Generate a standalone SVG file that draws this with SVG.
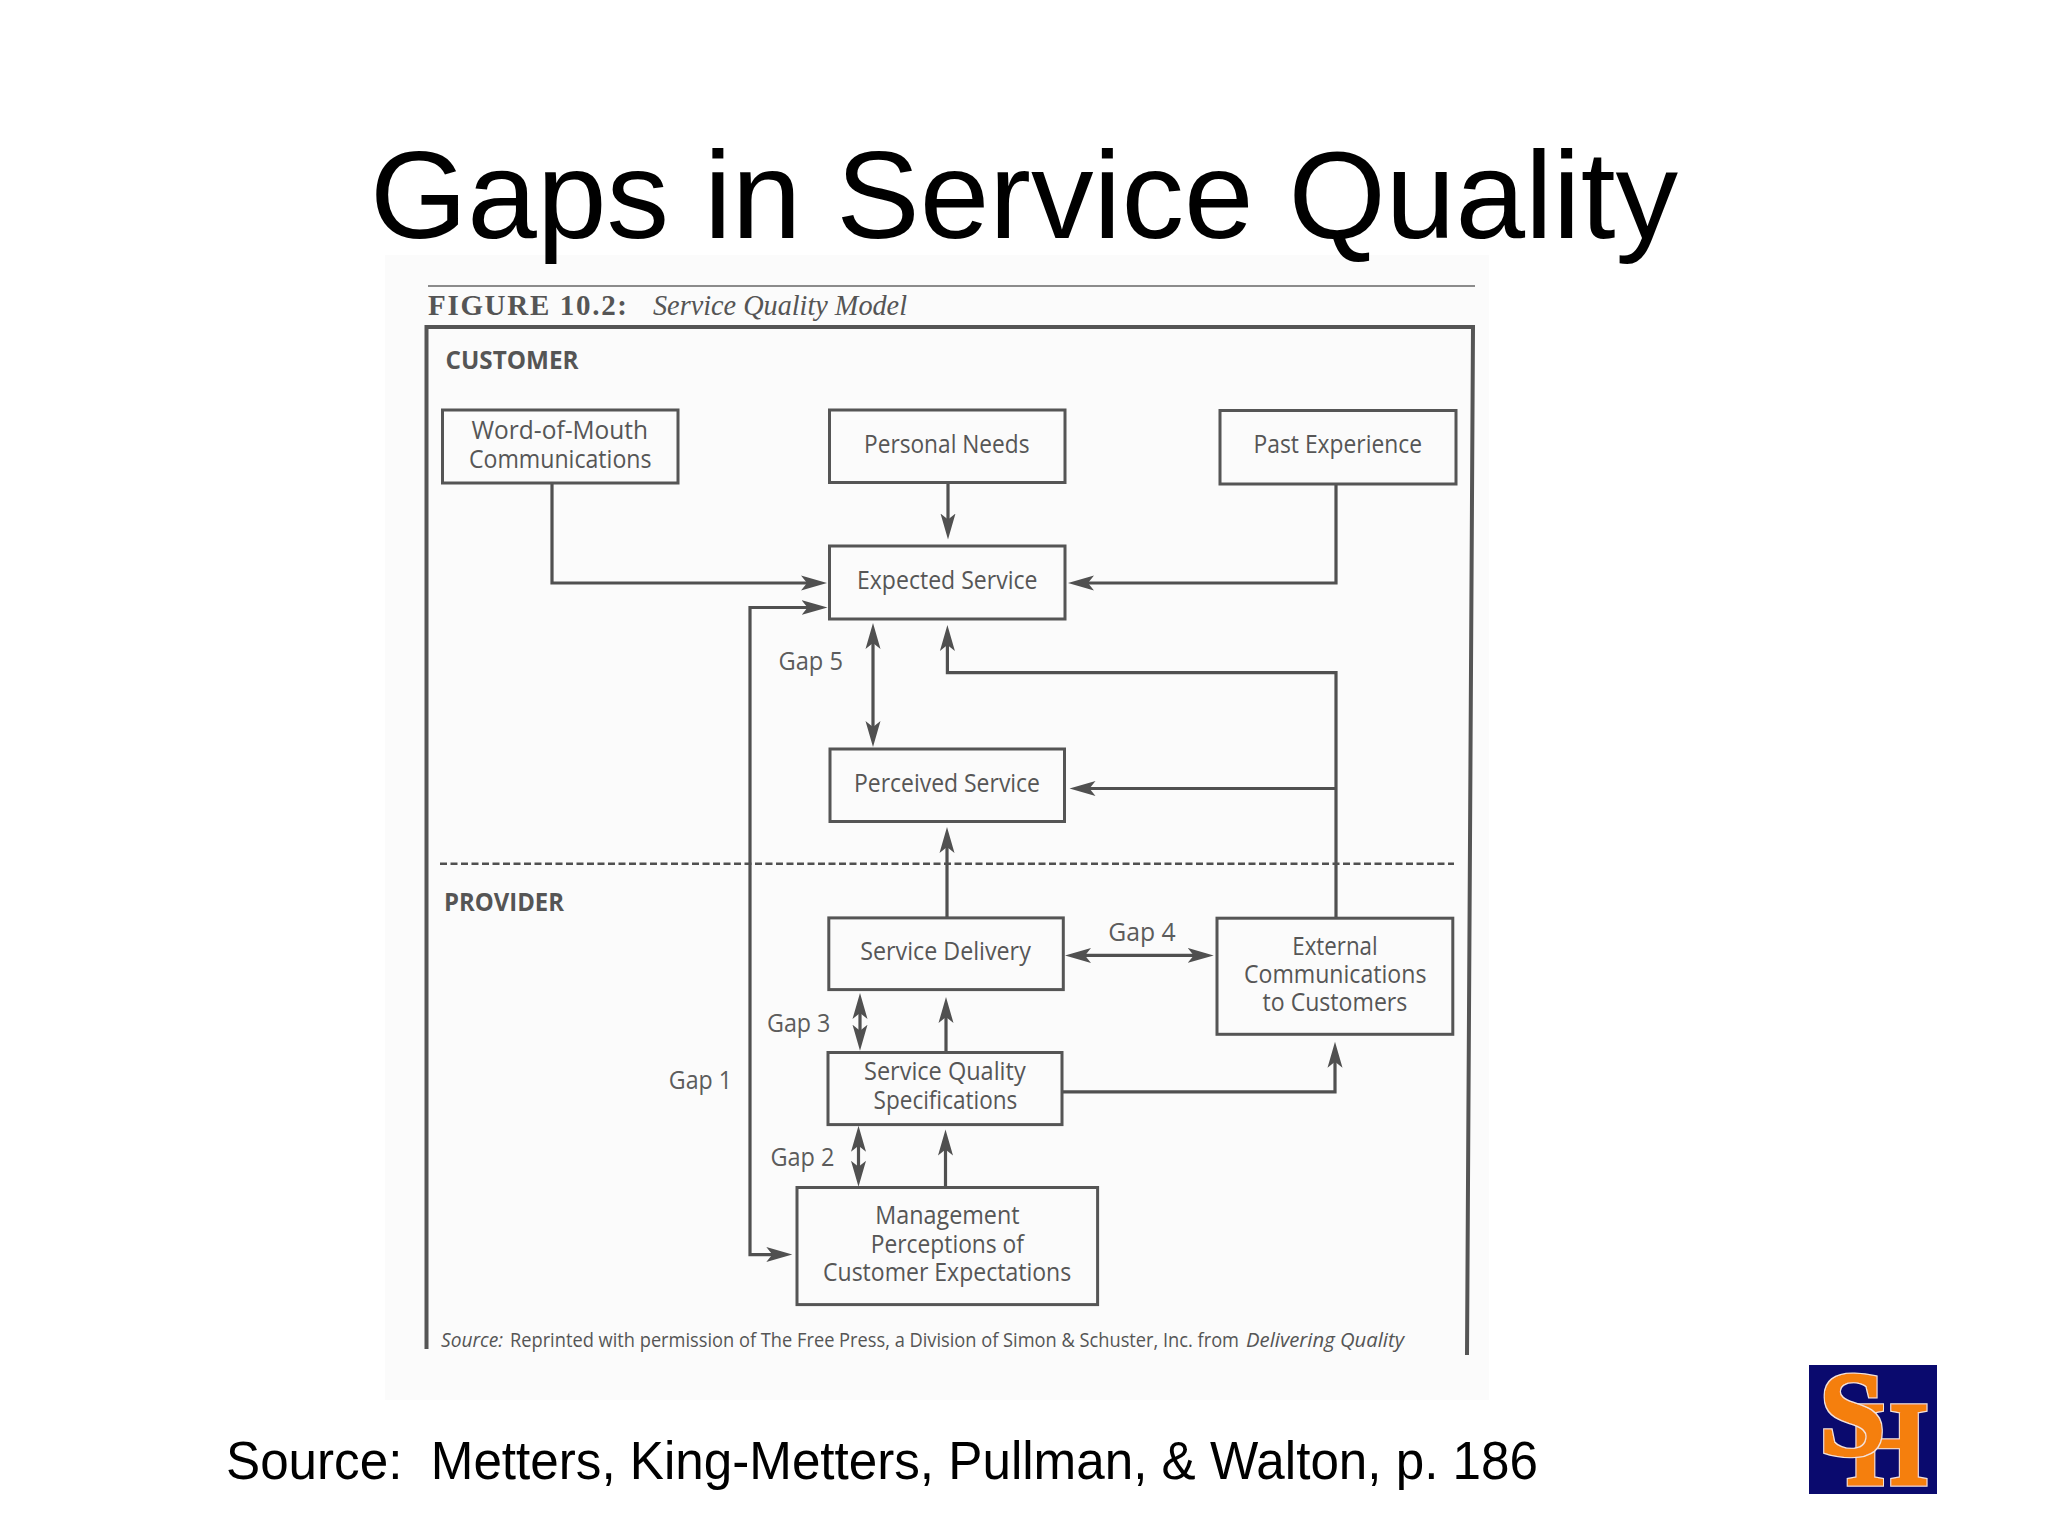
<svg xmlns="http://www.w3.org/2000/svg" width="2048" height="1536" viewBox="0 0 2048 1536">
<style>
.slide{font-family:"Liberation Sans",Arial,sans-serif;fill:#000;white-space:pre}
.box{fill:none;stroke:#555;stroke-width:3}
.t{font-family:"Open Sans","Noto Sans",sans-serif;font-size:25px;fill:#565656}
.g{font-family:"Open Sans","Noto Sans",sans-serif;font-size:25px;fill:#5c5c5c}
.b{font-family:"Open Sans","Noto Sans",sans-serif;font-size:25px;font-weight:700;fill:#555}
.s{font-family:"Open Sans","Noto Sans",sans-serif;font-size:20px;fill:#555}
.si{font-style:italic}
.c{fill:none;stroke:#505050;stroke-width:3.2}
.a{marker-end:url(#ah)}
.d{marker-start:url(#ah);marker-end:url(#ah)}
.logo{font-family:"Liberation Serif",serif;font-weight:700;font-size:120px;fill:#f57f0f;stroke:#f57f0f;stroke-width:2.5;filter:url(#halo)}
</style>
<defs>
<marker id="ah" markerUnits="userSpaceOnUse" markerWidth="30" markerHeight="18" viewBox="0 -9 30 18" refX="18" refY="0" orient="auto-start-reverse">
<path d="M0,-7.5 L26,0 L0,7.5 L6,0 Z" fill="#505050"/>
</marker>
<filter id="halo" x="-10%" y="-10%" width="120%" height="120%">
<feMorphology in="SourceAlpha" operator="dilate" radius="1" result="d"/>
<feFlood flood-color="#f2e6d8"/>
<feComposite in2="d" operator="in" result="w"/>
<feMerge><feMergeNode in="w"/><feMergeNode in="SourceGraphic"/></feMerge>
</filter>
</defs>
<rect width="2048" height="1536" fill="#fff"/>
<rect x="385" y="255" width="1104" height="1145" fill="#fbfbfb"/>
<text class="slide" x="370" y="238" font-size="125" textLength="1308" lengthAdjust="spacingAndGlyphs">Gaps in Service Quality</text>
<text class="slide" x="226" y="1479" font-size="53" textLength="1312" lengthAdjust="spacingAndGlyphs" xml:space="preserve">Source:  Metters, King-Metters, Pullman, &amp; Walton, p. 186</text>

<g id="figure-frame">
<path d="M428,286 H1475" fill="none" stroke="#666" stroke-width="1.5"/>
<path d="M426.5,1349 V327 H1473 L1467,1355" fill="none" stroke="#555" stroke-width="4"/>
<text x="428" y="314.5" font-family="Liberation Serif,serif" font-weight="700" font-size="29" fill="#555" textLength="199" lengthAdjust="spacing">FIGURE 10.2:</text>
<text x="653" y="314.5" font-family="Liberation Serif,serif" font-style="italic" font-size="29" fill="#555" textLength="254" lengthAdjust="spacingAndGlyphs">Service Quality Model</text>
<text class="b" x="445.5" y="368.5" textLength="133" lengthAdjust="spacingAndGlyphs">CUSTOMER</text>
<text class="b" x="444" y="910.5" textLength="120" lengthAdjust="spacingAndGlyphs">PROVIDER</text>
<path d="M440,863.7 H1454" fill="none" stroke="#505050" stroke-width="2.5" stroke-dasharray="7 3.5"/>
<text class="s si" x="441" y="1347" textLength="62" lengthAdjust="spacingAndGlyphs">Source:</text>
<text class="s" x="510" y="1347" textLength="729" lengthAdjust="spacingAndGlyphs">Reprinted with permission of The Free Press, a Division of Simon &amp; Schuster, Inc. from</text>
<text class="s si" x="1246" y="1347" textLength="158" lengthAdjust="spacingAndGlyphs">Delivering Quality</text>
</g>

<g id="connectors">
<path class="c a" d="M552,483 V583 H819"/>
<path class="c a" d="M1336,484 V583 H1076"/>
<path class="c a" d="M948,483 V531.5"/>
<path class="c d" d="M819.5,607.5 H750 V1254.6 H784.3"/>
<path class="c d" d="M873,631 V739"/>
<path class="c a" d="M1336,918 V672.7 H947.4 V633"/>
<path class="c a" d="M1336,788.5 H1077.5"/>
<path class="c a" d="M947,918 V835"/>
<path class="c d" d="M1073,955.4 H1205.7"/>
<path class="c d" d="M860,1001 V1042.7"/>
<path class="c a" d="M946,1052.5 V1005"/>
<path class="c d" d="M858.5,1133.7 V1178.8"/>
<path class="c a" d="M945.5,1187.5 V1137.6"/>
<path class="c a" d="M1062,1091.8 H1335 V1049.8"/>
</g>

<g id="word-of-mouth"><rect class="box" x="442.5" y="410" width="235.5" height="73"/>
<text class="t" x="471.5" y="439" textLength="176.5" lengthAdjust="spacingAndGlyphs">Word-of-Mouth</text>
<text class="t" x="469" y="467.5" textLength="182.5" lengthAdjust="spacingAndGlyphs">Communications</text></g>
<g id="personal-needs"><rect class="box" x="829.5" y="410" width="235.5" height="72.5"/>
<text class="t" x="864" y="453" textLength="165.5" lengthAdjust="spacingAndGlyphs">Personal Needs</text></g>
<g id="past-experience"><rect class="box" x="1220" y="410.5" width="236" height="73.5"/>
<text class="t" x="1253.5" y="453" textLength="168.5" lengthAdjust="spacingAndGlyphs">Past Experience</text></g>
<g id="expected-service"><rect class="box" x="829.5" y="546" width="235.5" height="73"/>
<text class="t" x="857" y="589" textLength="180.5" lengthAdjust="spacingAndGlyphs">Expected Service</text></g>
<g id="perceived-service"><rect class="box" x="830" y="749" width="234.5" height="72.5"/>
<text class="t" x="854" y="791.5" textLength="186" lengthAdjust="spacingAndGlyphs">Perceived Service</text></g>
<g id="service-delivery"><rect class="box" x="828.8" y="917.9" width="234.5" height="71.7"/>
<text class="t" x="860.2" y="960" textLength="170.6" lengthAdjust="spacingAndGlyphs">Service Delivery</text></g>
<g id="external-communications"><rect class="box" x="1217" y="918.2" width="235.8" height="116.1"/>
<text class="t" x="1292.3" y="954.6" textLength="85.3" lengthAdjust="spacingAndGlyphs">External</text>
<text class="t" x="1244" y="982.9" textLength="182.4" lengthAdjust="spacingAndGlyphs">Communications</text>
<text class="t" x="1262.5" y="1010.7" textLength="144.8" lengthAdjust="spacingAndGlyphs">to Customers</text></g>
<g id="service-quality-specifications"><rect class="box" x="828" y="1052.5" width="234" height="72.1"/>
<text class="t" x="864" y="1080.4" textLength="161.7" lengthAdjust="spacingAndGlyphs">Service Quality</text>
<text class="t" x="873.6" y="1109" textLength="143.7" lengthAdjust="spacingAndGlyphs">Specifications</text></g>
<g id="management-perceptions"><rect class="box" x="797" y="1187.5" width="300.6" height="117.1"/>
<text class="t" x="875.3" y="1224" textLength="144.3" lengthAdjust="spacingAndGlyphs">Management</text>
<text class="t" x="870.8" y="1252.5" textLength="153.2" lengthAdjust="spacingAndGlyphs">Perceptions of</text>
<text class="t" x="823" y="1281" textLength="248.2" lengthAdjust="spacingAndGlyphs">Customer Expectations</text></g>

<g id="gap-labels">
<text class="g" x="668.8" y="1089" textLength="63.2" lengthAdjust="spacingAndGlyphs">Gap 1</text>
<text class="g" x="770.4" y="1166.4" textLength="64" lengthAdjust="spacingAndGlyphs">Gap 2</text>
<text class="g" x="767" y="1032" textLength="63.4" lengthAdjust="spacingAndGlyphs">Gap 3</text>
<text class="g" x="1108.2" y="941" textLength="67.4" lengthAdjust="spacingAndGlyphs">Gap 4</text>
<text class="g" x="778.5" y="670" textLength="64.5" lengthAdjust="spacingAndGlyphs">Gap 5</text>
</g>

<g id="logo">
<rect x="1809" y="1365" width="128" height="129" fill="#0a0a6e"/>
<text class="logo" transform="translate(1847,1485) scale(.86,1)">H</text>
<text class="logo" x="1819" y="1455">S</text>
</g>
</svg>
